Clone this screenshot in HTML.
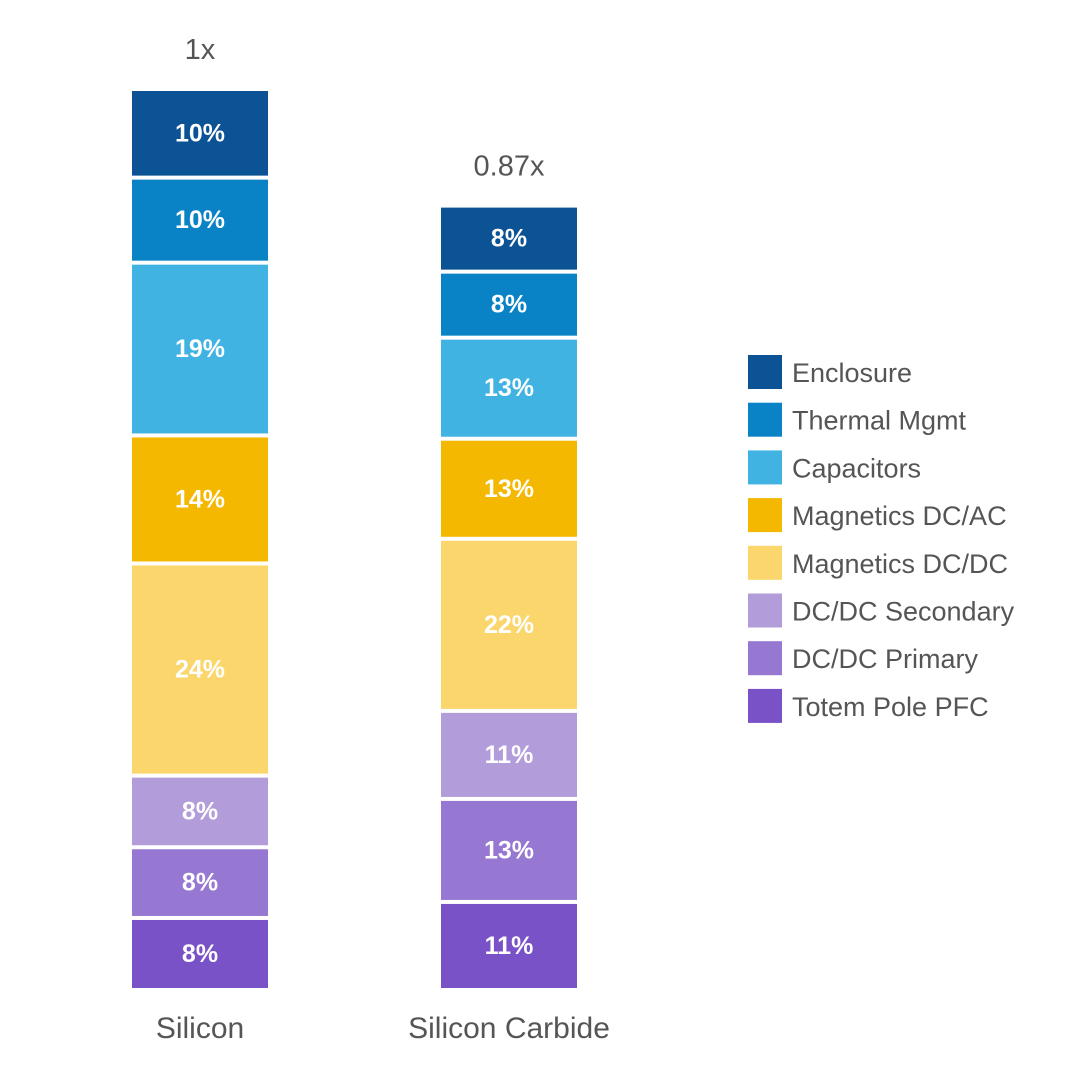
<!DOCTYPE html>
<html><head><meta charset="utf-8"><style>
html,body{margin:0;padding:0;background:#fff;}
svg{display:block;font-family:"Liberation Sans",sans-serif;}
</style></head><body>
<svg id="chart" width="1080" height="1080" viewBox="0 0 1080 1080"></svg>
<script>
const categories = ["Silicon", "Silicon Carbide"];
const totals = [1, 0.87];
const totalLabels = ["1x", "0.87x"];
const seriesNames = ["Enclosure","Thermal Mgmt","Capacitors","Magnetics DC/AC","Magnetics DC/DC","DC/DC Secondary","DC/DC Primary","Totem Pole PFC"];
const siliconValues = [9.9,9.5,19.3,14.3,23.7,8.0,7.9,7.6];
const sicValues = [8.46,8.46,12.95,12.82,22.05,11.28,13.2,10.77];
const colors = ["#0b5394","#0a83c6","#41b3e3","#f4b800","#fad66c","#b29dda","#9677d2","#7a52c7"];
const values = [siliconValues, sicValues];

const NS = "http://www.w3.org/2000/svg";
const svg = document.getElementById("chart");
const baseY = 988, fullH = 897, gap = 4, barW = 136;
const barX = [132, 441];
function yScale(frac){ return baseY - frac*fullH; }
function mk(tag, attrs, text){ const e=document.createElementNS(NS,tag); for(const k in attrs) e.setAttribute(k,attrs[k]); if(text!==undefined) e.textContent=text; svg.appendChild(e); return e; }

categories.forEach((cat, ci) => {
  const vals = values[ci];
  const sum = vals.reduce((a,b)=>a+b,0);
  const x = barX[ci];
  let cum = 0;
  for (let i = vals.length-1; i >= 0; i--) {
    const y0 = yScale(totals[ci]*cum/sum);
    cum += vals[i];
    const y1 = yScale(totals[ci]*cum/sum);
    const bot = y0 - (i===vals.length-1 ? 0 : gap);
    const r = mk("rect",{x:x,y:y1,width:barW,height:Math.max(0,bot-y1),fill:colors[i]});
    
    
    const t = mk("text",{x:x+barW/2,y:(y1+bot)/2+8,"text-anchor":"middle","font-size":"25","font-weight":"bold",fill:"#fff"}, Math.round(vals[i])+"%");
    
    
  }
  const tl = mk("text",{x:x+barW/2,y:yScale(totals[ci])-32,"text-anchor":"middle","font-size":"29",fill:"#555"}, totalLabels[ci]);
  
  
  const cl = mk("text",{x:x+barW/2,y:1038,"text-anchor":"middle","font-size":"30",fill:"#555"}, cat);
  
  
});

seriesNames.forEach((name, i) => {
  const y = 355 + i*47.7;
  const sq = mk("rect",{x:748,y:y,width:34,height:34,fill:colors[i]});
  
  
  const t = mk("text",{x:792,y:y+27,"font-size":"27",fill:"#555"}, name);
  
  
});
</script>
</body></html>
